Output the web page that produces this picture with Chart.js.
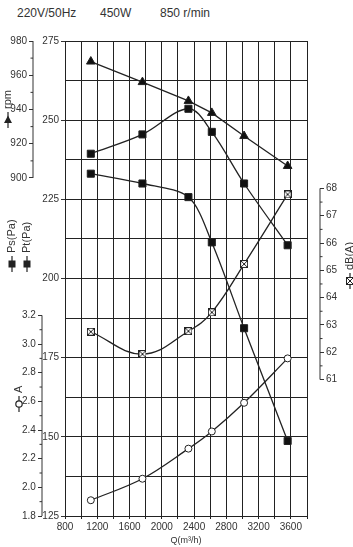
<!DOCTYPE html>
<html>
<head>
<meta charset="utf-8">
<script src="https://cdn.jsdelivr.net/npm/chart.js@4.4.1/dist/chart.umd.min.js"></script>
<style>
  body { margin: 0; background: #fff; }
  #wrap { position: relative; width: 353px; height: 547px; }
  .hdr { position: absolute; top: 6px; font: 12px 'Liberation Sans', Arial, sans-serif; color: #333; }
  canvas { position: absolute; left: 0; top: 0; }
</style>
</head>
<body>
<div id="wrap">
  <span class="hdr" style="left:17px">220V/50Hz</span>
  <span class="hdr" style="left:100px">450W</span>
  <span class="hdr" style="left:160px">850 r/min</span>
  <canvas id="fanChart" width="353" height="547"></canvas>
</div>
<script>
// values
const flow = [1120, 1760, 2330, 2620, 3020, 3560];          // Q (m3/h)
const speedRpm = [968, 956, 945, 938, 924.5, 907];
const totalPressure = [239.4, 245.5, 253.6, 246.3, 230, 210.5];
const staticPressure = [233.1, 230, 225.7, 211.4, 184.3, 148.7];
const current = [1.91, 2.06, 2.27, 2.39, 2.59, 2.9];
const noise = [62.75, 61.93, 62.77, 63.46, 65.23, 67.78];

// labelled ticks on each axis
const flowTicks = [800, 1200, 1600, 2000, 2400, 2800, 3200, 3600];
const pressureTicks = [125, 150, 175, 200, 225, 250, 275];
const rpmTicks = [900, 920, 940, 960, 980];
const ampTicks = [1.8, 2.0, 2.2, 2.4, 2.6, 2.8, 3.0, 3.2];
const noiseTicks = [61, 62, 63, 64, 65, 66, 67, 68];

const INK = '#222';
const TEXT = '#333';
const FONT = "'Liberation Sans', Arial, sans-serif";

function has(list, v){ return list.some(t => Math.abs(t - v) < 1e-6); }
function pts(ys){ return flow.map((x, i) => ({x: x, y: ys[i]})); }

function crossedSquare(size){
    const c = document.createElement('canvas');
    c.width = size; c.height = size;
    const g = c.getContext('2d');
    g.fillStyle = '#fff';
    g.fillRect(0, 0, size, size);
    g.strokeStyle = INK; g.lineWidth = 1;
    g.strokeRect(0.5, 0.5, size - 1, size - 1);
    g.beginPath();
    g.moveTo(1, 1); g.lineTo(size - 1, size - 1);
    g.moveTo(size - 1, 1); g.lineTo(1, size - 1);
    g.stroke();
    return c;
}
const xBox = crossedSquare(8);

// side axes only cover part of the height: draw their spine and minor ticks
const partialAxes = {
    id: 'partialAxes',
    afterDraw(chart){
        const ctx = chart.ctx;
        ctx.save();
        ctx.strokeStyle = TEXT;
        ctx.lineWidth = 1;
        [['rpm', rpmTicks], ['amp', ampTicks], ['noise', noiseTicks]].forEach(([id, ticks]) => {
            const s = chart.scales[id];
            const left = s.position === 'left';
            const x = left ? s.right : s.left;
            const dir = left ? -1 : 1;
            ctx.beginPath();
            ctx.moveTo(x, s.getPixelForValue(ticks[ticks.length - 1]));
            ctx.lineTo(x, s.getPixelForValue(ticks[0]));
            for(let i = 0; i < ticks.length - 1; i++){
                const y = s.getPixelForValue((ticks[i] + ticks[i + 1]) / 2);
                ctx.moveTo(x, y);
                ctx.lineTo(x + dir * 2.5, y);
            }
            ctx.stroke();
        });
        ctx.restore();
    }
};

// rotated axis titles with their marker glyphs
function drawTitle(ctx, x, my, text, marker){
    ctx.save();
    ctx.strokeStyle = INK; ctx.fillStyle = INK; ctx.lineWidth = 1.2;
    ctx.beginPath(); ctx.moveTo(x, my + 8); ctx.lineTo(x, my - 8); ctx.stroke();
    if(marker === 'tri'){
        ctx.beginPath(); ctx.moveTo(x, my - 4.5); ctx.lineTo(x + 4, my + 3); ctx.lineTo(x - 4, my + 3); ctx.closePath(); ctx.fill();
    } else if(marker === 'sq'){
        ctx.fillRect(x - 3.5, my - 3.5, 7, 7);
    } else if(marker === 'circ'){
        ctx.beginPath(); ctx.arc(x, my, 3.2, 0, Math.PI * 2);
        ctx.fillStyle = '#fff'; ctx.fill(); ctx.stroke();
    } else if(marker === 'xbox'){
        ctx.drawImage(xBox, x - 4, my - 4);
    }
    ctx.translate(x, my - 11);
    ctx.rotate(-Math.PI / 2);
    ctx.fillStyle = TEXT;
    ctx.font = '11px ' + FONT;
    ctx.textAlign = 'left';
    ctx.textBaseline = 'middle';
    ctx.fillText(text, 0, 0);
    ctx.restore();
}
const axisTitles = {
    id: 'axisTitles',
    afterDraw(chart){
        const ctx = chart.ctx;
        drawTitle(ctx, 8, 120, 'rpm', 'tri');
        drawTitle(ctx, 12, 264, 'Ps(Pa)', 'sq');
        drawTitle(ctx, 27, 264, 'Pt(Pa)', 'sq');
        drawTitle(ctx, 19, 404, 'A', 'circ');
        drawTitle(ctx, 350, 281, 'dB(A)', 'xbox');
    }
};

function sideAxis(pos, weight, min, max, step, labels, width, mirrorPad){
    const ticks = {
        stepSize: step, autoSkip: false, padding: 2, color: TEXT, font: { size: 10, family: FONT },
        callback: v => has(labels, v) ? (step < 1 ? v.toFixed(1) : String(v)) : ''
    };
    if(mirrorPad !== undefined){
        // narrow box: labels hang out to the left, so draw them mirrored (not clipped)
        ticks.mirror = true;
        ticks.crossAlign = 'near';
        ticks.padding = mirrorPad;
    }
    return {
        type: 'linear', position: pos, weight: weight, min: min, max: max,
        border: { display: false },
        grid: {
            drawOnChartArea: false, tickLength: 4, tickWidth: 1,
            tickColor: c => has(labels, c.tick.value) ? TEXT : 'transparent'
        },
        ticks: ticks,
        afterFit: s => { s.width = width; }
    };
}

function initChart(){
    const canvas = document.getElementById('fanChart');
    const line = { borderColor: INK, borderWidth: 1.3, fill: false, pointBorderColor: INK, pointBorderWidth: 1 };

    new Chart(canvas.getContext('2d'), {
        type: 'line',
        data: {
            datasets: [
                Object.assign({ label: 'rpm', data: pts(speedRpm), yAxisID: 'rpm', tension: 0,
                    pointStyle: 'triangle', pointRadius: 5, pointBackgroundColor: '#111' }, line),
                Object.assign({ label: 'Pt(Pa)', data: pts(totalPressure), yAxisID: 'y', tension: 0.35,
                    pointStyle: 'rect', pointRadius: 5, pointBackgroundColor: '#111' }, line),
                Object.assign({ label: 'Ps(Pa)', data: pts(staticPressure), yAxisID: 'y', tension: 0.3,
                    pointStyle: 'rect', pointRadius: 5, pointBackgroundColor: '#111' }, line),
                Object.assign({ label: 'A', data: pts(current), yAxisID: 'amp', tension: 0.35,
                    pointStyle: 'circle', pointRadius: 3.5, pointBackgroundColor: '#fff' }, line),
                Object.assign({ label: 'dB(A)', data: pts(noise), yAxisID: 'noise', tension: 0.4,
                    pointStyle: xBox, pointRadius: 4 }, line)
            ]
        },
        options: {
            responsive: false,
            animation: false,
            layout: { padding: { top: 41, left: 0, right: 0, bottom: 0 } },
            plugins: { legend: { display: false }, tooltip: { enabled: false } },
            scales: {
                x: {
                    type: 'linear', min: 800, max: 3800,
                    border: { display: false },
                    grid: { color: INK, lineWidth: 1, tickLength: 3, tickColor: INK },
                    ticks: {
                        stepSize: 200, autoSkip: false, maxRotation: 0, padding: 2,
                        color: TEXT, font: { size: 10, family: FONT },
                        callback: v => has(flowTicks, v) ? String(v) : ''
                    },
                    title: { display: true, text: 'Q(m³/h)', color: TEXT, font: { size: 9, family: FONT }, padding: { top: 0, bottom: 1 } },
                    afterFit: s => { s.height = 31; }
                },
                y: {
                    type: 'linear', position: 'left', weight: 0, min: 125, max: 275,
                    border: { display: false },
                    grid: {
                        color: INK, lineWidth: 1, tickLength: 4,
                        tickColor: c => has(pressureTicks, c.tick.value) ? TEXT : 'transparent'
                    },
                    ticks: {
                        stepSize: 12.5, autoSkip: false, padding: 2, color: TEXT, font: { size: 10, family: FONT },
                        callback: v => has(pressureTicks, v) ? String(v) : ''
                    },
                    afterFit: s => { s.width = 23; }
                },
                amp: sideAxis('left', 1, 1.8, 5.115, 0.2, ampTicks, 9, -20),
                rpm: sideAxis('left', 2, 702.6, 980, 20, rpmTicks, 33),
                gap: {
                    type: 'linear', position: 'right', weight: 0,
                    border: { display: false }, grid: { display: false }, ticks: { display: false },
                    afterFit: s => { s.width = 13; }
                },
                noise: sideAxis('right', 1, 56, 73.4, 1, noiseTicks, 33)
            }
        },
        plugins: [partialAxes, axisTitles]
    });
}

if(document.readyState === 'loading'){
    document.addEventListener('DOMContentLoaded', initChart);
} else {
    initChart();
}
</script>
</body>
</html>
